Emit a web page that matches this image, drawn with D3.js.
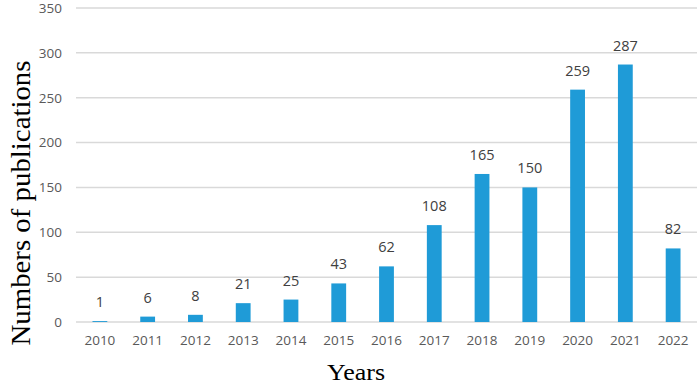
<!DOCTYPE html>
<html><head><meta charset="utf-8">
<script src="https://cdn.jsdelivr.net/npm/d3@7/dist/d3.min.js"></script>
<style>body{margin:0;background:#fff}svg{display:block}</style>
</head><body><svg id="c" width="699" height="386"></svg>
<script>
const years = ["2010","2011","2012","2013","2014","2015","2016","2017","2018","2019","2020","2021","2022"];
const counts = [1,6,8,21,25,43,62,108,165,150,259,287,82];
const yTicks = [0,50,100,150,200,250,300,350];

const svg = d3.select("#c");
const m = {l:76, r:2, t:8, b:64};
const W = 699, H = 386;
const x = d3.scaleBand().domain(years).range([m.l, W - m.r]).paddingInner(0.69).paddingOuter(0.345);
const y = d3.scaleLinear().domain([0,350]).range([H - m.b, m.t]);

const grid = svg.append("g");
yTicks.forEach(t => {
  grid.append("line").attr("x1", m.l).attr("x2", W - m.r).attr("y1", y(t)).attr("y2", y(t))
    .attr("stroke", "#d9d9d9").attr("stroke-width", 1.5);
});
const yAxis = svg.append("g").attr("transform", `translate(${m.l},0)`)
  .call(d3.axisLeft(y).tickValues(yTicks).tickSize(0).tickPadding(14));
yAxis.select(".domain").remove();
yAxis.selectAll("text").attr("fill", "#595959").style("font-family", "'Open Sans', sans-serif").style("font-size", "13.5px");

const xAxis = svg.append("g").attr("transform", `translate(0,${y(0)})`)
  .call(d3.axisBottom(x).tickSize(0).tickPadding(13));
xAxis.select(".domain").remove();
xAxis.selectAll("text").attr("fill", "#595959").style("font-family", "'Open Sans', sans-serif").style("font-size", "13.5px");

svg.append("g").selectAll("rect").data(counts).join("rect")
  .attr("x", (d,i) => x(years[i])).attr("width", x.bandwidth())
  .attr("y", d => y(d)).attr("height", d => y(0) - y(d))
  .attr("fill", "#1f9bd7");

svg.append("g").selectAll("text").data(counts).join("text")
  .attr("x", (d,i) => x(years[i]) + x.bandwidth()/2)
  .attr("y", d => y(d) - 14)
  .attr("text-anchor", "middle").attr("fill", "#404040")
  .style("font-family", "'Open Sans', sans-serif").style("font-size", "14.5px")
  .text(d => d);

svg.append("text").attr("transform", "translate(30,203) rotate(-90)")
  .attr("text-anchor", "middle").attr("textLength", 285).attr("lengthAdjust", "spacingAndGlyphs")
  .style("font-family", "'Liberation Serif', serif").style("font-size", "27px").attr("fill", "#000")
  .text("Numbers of publications");

svg.append("text").attr("x", 356).attr("y", 380)
  .attr("text-anchor", "middle").attr("textLength", 58).attr("lengthAdjust", "spacingAndGlyphs")
  .style("font-family", "'Liberation Serif', serif").style("font-size", "24px").attr("fill", "#000")
  .text("Years");
</script></body></html>
